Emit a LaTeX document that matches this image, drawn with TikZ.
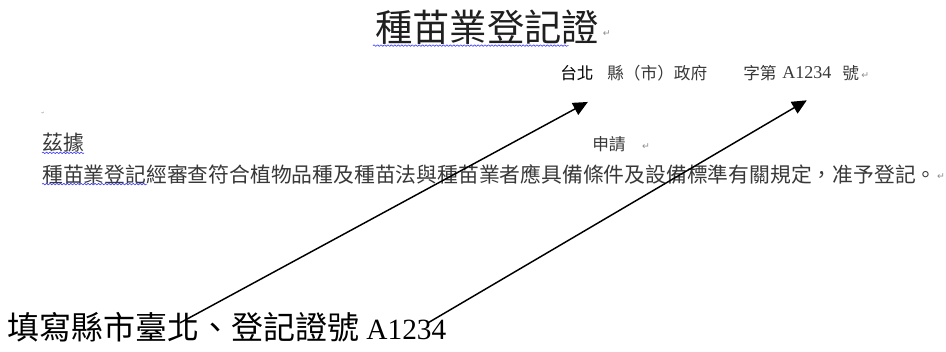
\documentclass[tikz,border=0pt]{standalone}
\usepackage{fontspec}
\newfontfamily\cjk{Noto Sans CJK TC}
\newfontfamily\latin{Liberation Serif}
\newfontfamily\pmarkfont{DejaVu Sans}
\usetikzlibrary{arrows.meta,decorations.pathmorphing}
\newcommand{\sz}[1]{\fontsize{#1}{#1}\selectfont}
\tikzset{
  doc/.style={inner sep=0, anchor=west, text=black!78},
  parmark/.style={inner sep=0, anchor=west, text=black!45, font=\pmarkfont\sz{7pt}},
  squiggle/.style={draw=blue!75, line width=0.5pt, decorate,
    decoration={snake, amplitude=0.6pt, segment length=2.6pt}},
  pointer/.style={line width=1.1pt, -{Triangle[length=11pt, width=10pt]}}
}
\begin{document}
\begin{tikzpicture}[x=0.75pt, y=-0.75pt, line join=round]
\useasboundingbox (0,0) rectangle (946,352);
% heading
\node[doc, text=black!88, font=\cjk\sz{28pt}] (title) at (375,27) {種苗業登記證};
\node[parmark] (titlemark) at ([shift={(3,7)}]title.east) {↵};
\draw[squiggle] ([shift={(-2,1)}]title.south west) -- ([shift={(-31,1)}]title.south east);
% county line
\node[doc, text=black, font=\cjk\sz{12.5pt}] (taibei) at (560,73) {台北};
\node[doc, font=\cjk\sz{12.5pt}] (county) at (607,73) {縣（市）政府};
\node[doc, font=\cjk\sz{12.5pt}] (zidi) at (743,73) {字第};
\node[doc, font=\latin\sz{13.5pt}] (regno) at (782,73) {A1234};
\node[doc, font=\cjk\sz{12.5pt}] (hao) at (842,73) {號};
\node[parmark] (haomark) at ([shift={(2,3)}]hao.east) {↵};
% body
\node[parmark, font=\pmarkfont\sz{3pt}] (blank) at (41,113) {↵};
\node[doc, font=\cjk\sz{15.6pt}] (zhiju) at (42,143) {茲據};
\draw[squiggle] (zhiju.south west) -- (zhiju.south east);
\node[doc, font=\cjk\sz{12.5pt}] (apply) at (592,144) {申請};
\node[parmark] (applymark) at ([shift={(16,3)}]apply.east) {↵};
\node[doc, font=\cjk\sz{15.6pt}] (body) at (42,174) {種苗業登記經審查符合植物品種及種苗法與種苗業者應具備條件及設備標準有關規定，准予登記。};
\node[parmark] (bodymark) at ([shift={(0,3)}]body.east) {↵};
\draw[squiggle] (body.south west) -- ([shift={(105,0)}]body.south west);
% note and arrows
\node[doc, text=black, font=\cjk\sz{24pt}] (note) at (7,327) {填寫縣市臺北、登記證號 {\latin\sz{22pt}A1234}};
\path ([shift={(173,11)}]note.north west) coordinate (tailA)
      ([shift={(421,11)}]note.north west) coordinate (tailB)
      ([shift={(-6,21)}]taibei.south east) coordinate (tipA)
      ([shift={(0,21)}]regno.south) coordinate (tipB);
\draw[pointer] (tailA) -- (tipA);
\draw[pointer] (tailB) -- (tipB);
\end{tikzpicture}
\end{document}
